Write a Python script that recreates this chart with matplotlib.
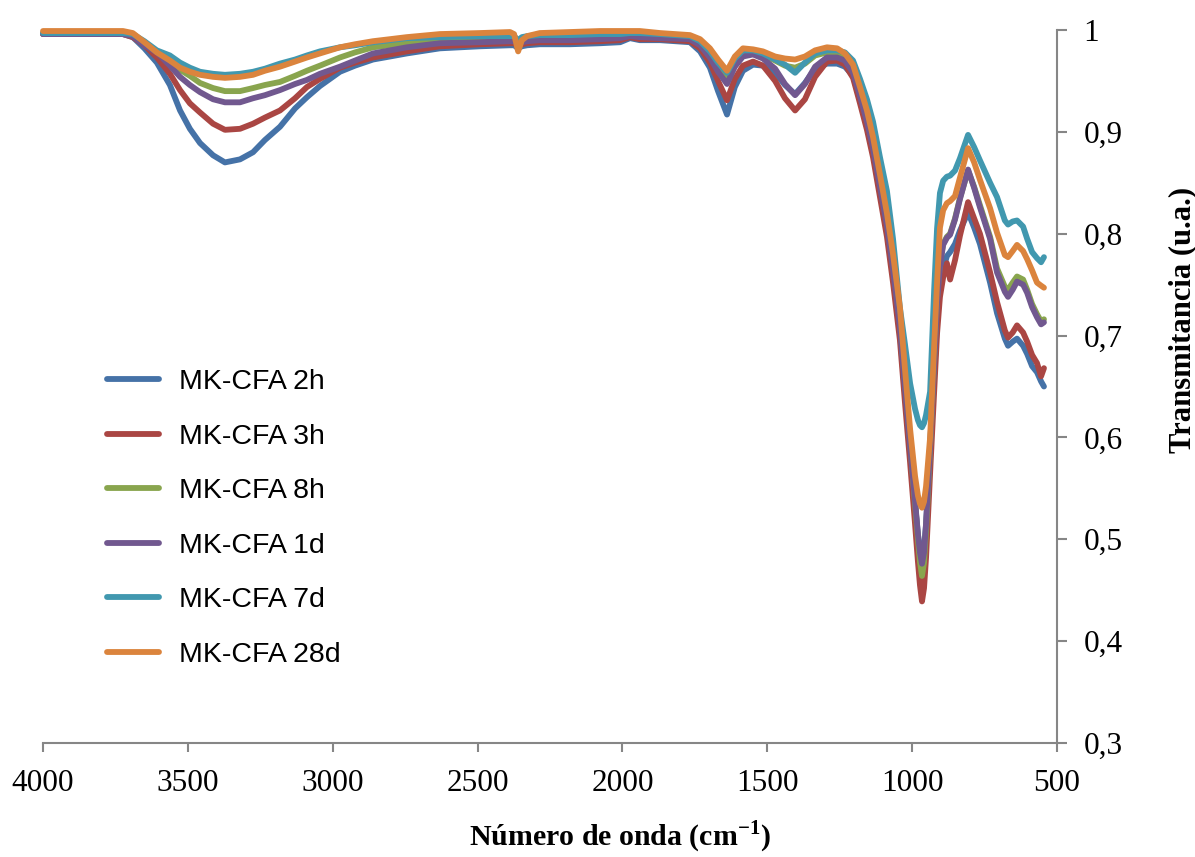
import matplotlib
matplotlib.use("Agg")
import matplotlib.pyplot as plt

plt.rcParams['mathtext.fontset'] = 'custom'
plt.rcParams['mathtext.rm'] = 'Liberation Serif'
plt.rcParams['mathtext.bf'] = 'Liberation Serif:bold'

# wavenumber grid (cm-1)
wavenumber = [
    4000, 3800, 3724, 3690, 3650, 3607, 3562, 3527, 3493, 3458,
    3413, 3372, 3320, 3275, 3234, 3182, 3130, 3089, 3044, 2975,
    2923, 2861, 2802, 2744, 2630, 2492, 2388, 2374, 2360, 2347,
    2329, 2285, 2181, 2077, 2008, 1974, 1940, 1870, 1767, 1732,
    1698, 1670, 1639, 1612, 1584, 1549, 1515, 1473, 1439, 1404,
    1370, 1335, 1294, 1259, 1232, 1204, 1180, 1156, 1135, 1111,
    1087, 1066, 1042, 1025, 1007, 990, 980, 973, 966, 959, 952, 938,
    924, 914, 904, 893, 880, 869, 852, 835, 807, 786,
    766, 731, 707, 680, 669, 653, 638, 617, 603, 586, 569, 555, 545,
]

t_2h = [
    0.996, 0.996, 0.996, 0.993, 0.982, 0.968, 0.946, 0.921, 0.903, 0.889,
    0.877, 0.870, 0.873, 0.880, 0.892, 0.905, 0.923, 0.934, 0.945, 0.959,
    0.965, 0.971, 0.974, 0.977, 0.982, 0.984, 0.985, 0.985, 0.982, 0.984,
    0.985, 0.986, 0.986, 0.987, 0.988, 0.992, 0.990, 0.990, 0.988, 0.979,
    0.963, 0.940, 0.917, 0.944, 0.960, 0.966, 0.965, 0.958, 0.946, 0.937,
    0.948, 0.962, 0.967, 0.967, 0.964, 0.955, 0.932, 0.907, 0.880, 0.842,
    0.804, 0.760, 0.702, 0.645, 0.588, 0.535, 0.505, 0.490, 0.481, 0.490, 0.515, 0.585,
    0.662, 0.714, 0.746, 0.765, 0.778, 0.782, 0.790, 0.803, 0.821, 0.806,
    0.790, 0.752, 0.722, 0.697, 0.690, 0.694, 0.697, 0.690, 0.682, 0.670, 0.664, 0.655, 0.650,
]

t_3h = [
    0.996, 0.996, 0.996, 0.993, 0.985, 0.973, 0.957, 0.941, 0.928, 0.919,
    0.908, 0.902, 0.903, 0.908, 0.914, 0.921, 0.933, 0.944, 0.952, 0.963,
    0.968, 0.973, 0.976, 0.979, 0.984, 0.986, 0.987, 0.987, 0.984, 0.986,
    0.987, 0.988, 0.988, 0.989, 0.990, 0.993, 0.991, 0.991, 0.989, 0.982,
    0.968, 0.950, 0.931, 0.952, 0.965, 0.969, 0.965, 0.950, 0.933, 0.921,
    0.932, 0.954, 0.969, 0.970, 0.966, 0.953, 0.928, 0.902, 0.875, 0.836,
    0.797, 0.752, 0.695, 0.635, 0.575, 0.515, 0.478, 0.455, 0.439, 0.452, 0.482, 0.565,
    0.645, 0.702, 0.738, 0.757, 0.771, 0.755, 0.774, 0.798, 0.831, 0.815,
    0.800, 0.762, 0.733, 0.705, 0.698, 0.703, 0.710, 0.703, 0.694, 0.681, 0.673, 0.660, 0.668,
]

t_8h = [
    0.997, 0.997, 0.997, 0.995, 0.987, 0.979, 0.970, 0.961, 0.955, 0.948,
    0.943, 0.940, 0.940, 0.943, 0.946, 0.949, 0.955, 0.960, 0.965, 0.973,
    0.978, 0.983, 0.985, 0.988, 0.991, 0.992, 0.993, 0.992, 0.988, 0.991,
    0.992, 0.993, 0.994, 0.994, 0.995, 0.996, 0.995, 0.995, 0.993, 0.987,
    0.976, 0.964, 0.953, 0.968, 0.977, 0.978, 0.976, 0.970, 0.965, 0.963,
    0.967, 0.975, 0.978, 0.977, 0.973, 0.961, 0.938, 0.913, 0.887, 0.850,
    0.812, 0.770, 0.713, 0.655, 0.595, 0.535, 0.500, 0.478, 0.464, 0.477, 0.508, 0.590,
    0.675, 0.737, 0.771, 0.790, 0.797, 0.800, 0.815, 0.835, 0.862, 0.846,
    0.828, 0.797, 0.766, 0.748, 0.745, 0.752, 0.758, 0.755, 0.745, 0.731, 0.721, 0.714, 0.716,
]

t_1d = [
    0.996, 0.996, 0.996, 0.994, 0.985, 0.978, 0.965, 0.954, 0.946, 0.939,
    0.932, 0.929, 0.929, 0.933, 0.936, 0.941, 0.947, 0.951, 0.957, 0.964,
    0.970, 0.977, 0.980, 0.983, 0.987, 0.988, 0.989, 0.989, 0.986, 0.988,
    0.989, 0.990, 0.990, 0.991, 0.992, 0.994, 0.993, 0.992, 0.991, 0.985,
    0.973, 0.959, 0.947, 0.964, 0.974, 0.976, 0.972, 0.962, 0.947, 0.936,
    0.947, 0.964, 0.973, 0.973, 0.970, 0.958, 0.935, 0.910, 0.884, 0.846,
    0.808, 0.765, 0.708, 0.650, 0.592, 0.538, 0.505, 0.487, 0.476, 0.487, 0.515, 0.592,
    0.672, 0.733, 0.768, 0.789, 0.796, 0.799, 0.814, 0.834, 0.863, 0.845,
    0.826, 0.795, 0.762, 0.743, 0.738, 0.745, 0.753, 0.750, 0.742, 0.728, 0.718, 0.711, 0.713,
]

t_7d = [
    0.997, 0.997, 0.997, 0.996, 0.989, 0.980, 0.975, 0.968, 0.963, 0.959,
    0.957, 0.956, 0.957, 0.959, 0.962, 0.967, 0.971, 0.975, 0.979, 0.983,
    0.985, 0.988, 0.990, 0.992, 0.993, 0.994, 0.994, 0.994, 0.990, 0.993,
    0.994, 0.995, 0.995, 0.996, 0.996, 0.997, 0.997, 0.996, 0.994, 0.989,
    0.979, 0.968, 0.958, 0.972, 0.980, 0.980, 0.977, 0.971, 0.966, 0.958,
    0.968, 0.977, 0.980, 0.980, 0.978, 0.970, 0.952, 0.932, 0.910, 0.875,
    0.842, 0.795, 0.727, 0.692, 0.653, 0.628, 0.617, 0.612, 0.610, 0.614, 0.622, 0.645,
    0.745, 0.805, 0.840, 0.852, 0.856, 0.857, 0.862, 0.874, 0.897, 0.885,
    0.872, 0.850, 0.836, 0.813, 0.809, 0.812, 0.813, 0.807, 0.795, 0.782, 0.776, 0.772, 0.777,
]

t_28d = [
    0.999, 0.999, 0.999, 0.997, 0.988, 0.978, 0.970, 0.963, 0.959, 0.956,
    0.954, 0.953, 0.954, 0.956, 0.960, 0.964, 0.969, 0.973, 0.977, 0.983,
    0.986, 0.989, 0.991, 0.993, 0.996, 0.997, 0.998, 0.996, 0.979, 0.990,
    0.994, 0.997, 0.998, 0.999, 0.999, 0.999, 0.999, 0.997, 0.995, 0.991,
    0.982, 0.971, 0.960, 0.974, 0.982, 0.981, 0.979, 0.974, 0.972, 0.971,
    0.974, 0.980, 0.983, 0.982, 0.977, 0.966, 0.944, 0.921, 0.895, 0.858,
    0.820, 0.780, 0.727, 0.668, 0.608, 0.562, 0.543, 0.535, 0.531, 0.537, 0.552, 0.600,
    0.690, 0.752, 0.806, 0.823, 0.830, 0.832, 0.837, 0.855, 0.884, 0.870,
    0.853, 0.825, 0.801, 0.779, 0.777, 0.783, 0.789, 0.783, 0.775, 0.764, 0.752, 0.749, 0.747,
]

labels = ['MK-CFA 2h', 'MK-CFA 3h', 'MK-CFA 8h', 'MK-CFA 1d', 'MK-CFA 7d', 'MK-CFA 28d']
series = [t_2h, t_3h, t_8h, t_1d, t_7d, t_28d]
colors = ['#4572A7', '#AA4643', '#89A54E', '#71588F', '#4198AF', '#DB843D']

x_ticks = [4000, 3500, 3000, 2500, 2000, 1500, 1000, 500]
y_ticks = [0.3, 0.4, 0.5, 0.6, 0.7, 0.8, 0.9, 1.0]
y_tick_labels = ['0,3', '0,4', '0,5', '0,6', '0,7', '0,8', '0,9', '1']

fig = plt.figure(figsize=(11.95, 8.57), dpi=100)
ax = fig.add_axes([43 / 1195, 1 - 743 / 857, 1014 / 1195, 713 / 857])

for y, lab, c in zip(series, labels, colors):
    ax.plot(wavenumber, y, color=c, lw=4.2, label=lab, clip_on=False,
            solid_joinstyle='round', solid_capstyle='round')

ax.set_xlim(4000, 500)
ax.set_ylim(0.3, 1.0)

axis_grey = '#868686'
for s in ['top', 'left']:
    ax.spines[s].set_visible(False)
for s in ['bottom', 'right']:
    ax.spines[s].set_color(axis_grey)
    ax.spines[s].set_linewidth(1.5)

ax.yaxis.tick_right()
ax.set_xticks(x_ticks)
ax.set_yticks(y_ticks)
ax.set_yticklabels(y_tick_labels)
ax.tick_params(axis='both', direction='out', color=axis_grey, width=1.5,
               labelsize=22.5, labelfontfamily='Liberation Serif')
ax.tick_params(axis='x', length=6.5, pad=12)
ax.tick_params(axis='y', length=7, pad=12)

ax.set_xlabel('Número de onda (cm$^{\\mathbf{-1}}$)', fontsize=21.5,
              fontweight='bold', family='Liberation Serif')
ax.xaxis.label.set_va('center')
ax.xaxis.set_label_coords(0.569, -0.132)
ax.yaxis.set_label_position('right')
ax.set_ylabel('Transmitancia (u.a.)', fontsize=22, fontweight='bold',
              family='Liberation Serif')
ax.yaxis.label.set_va('center')
ax.yaxis.set_label_coords(1.124, 0.593)

ax.legend(loc='upper left', bbox_to_anchor=(0.063, 0.524), frameon=False,
          prop={'family': 'Liberation Sans', 'size': 20.5},
          handlelength=1.83, handletextpad=0.7, labelspacing=1.0,
          borderpad=0, borderaxespad=0)

plt.savefig('out.png', dpi=100)
